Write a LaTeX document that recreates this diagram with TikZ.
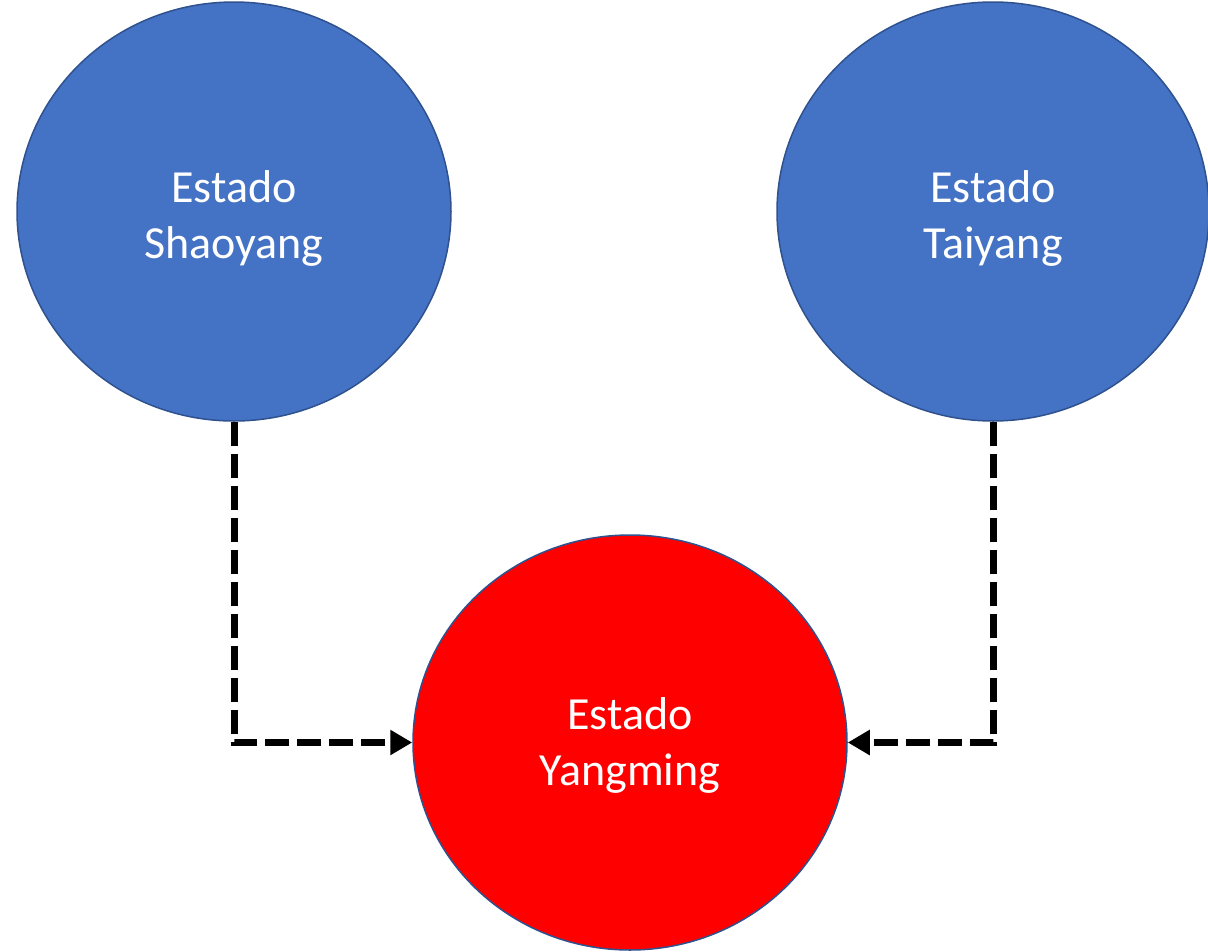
\documentclass[tikz,border=0pt]{standalone}
\usepackage{fontspec}
\setmainfont{Carlito}
\usetikzlibrary{shapes.geometric,arrows.meta}
\definecolor{bluefill}{HTML}{4472C4}
\definecolor{blueedge}{HTML}{2F528F}
\definecolor{redfill}{HTML}{FF0000}
\tikzset{
  state/.style={ellipse, draw=blueedge, line width=1.5pt, inner sep=0pt},
  statetext/.style={text=white, align=center, font=\fontsize{46}{56}\selectfont, inner sep=0pt},
  conn/.style={line width=7pt, dash pattern=on 24pt off 8pt, -{Triangle[length=22pt,width=24pt]}}
}
\begin{document}
\begin{tikzpicture}[x=1pt,y=-1pt]
\useasboundingbox (0,0) rectangle (1208,951);
\node[state, fill=bluefill, minimum width=434pt, minimum height=419pt] (sh) at (234,211.5) {};
\node[state, fill=bluefill, minimum width=432pt, minimum height=419pt] (ty) at (993,211.5) {};
\node[state, fill=redfill, minimum width=434pt, minimum height=415pt] (ym) at (630,742.5) {};
\node[statetext] (sht) at ([yshift=-7pt]sh.center) {Estado\\Shaoyang};
\node[statetext] (tyt) at ([yshift=-7pt]ty.center) {Estado\\Taiyang};
\node[statetext] (ymt) at ([yshift=-3pt]ym.center) {Estado\\Yangming};
\draw[conn] (sh.south) |- (ym.west);
\draw[conn] (ty.south) |- (ym.east);
\end{tikzpicture}
\end{document}
